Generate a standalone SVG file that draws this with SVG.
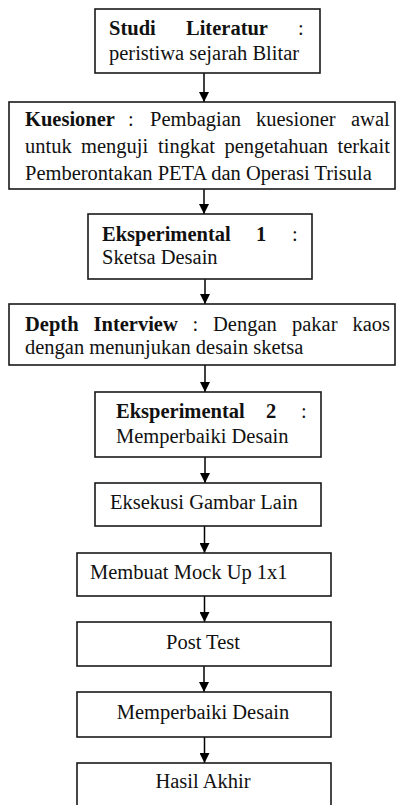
<svg xmlns="http://www.w3.org/2000/svg" width="396" height="805" viewBox="0 0 396 805">
<style>
.box{fill:#fff;stroke:#1a1a1a;stroke-width:1.6}
.t{font-family:"Liberation Serif","Times New Roman",serif;font-size:20.5px;fill:#111}
.b{font-weight:bold}
.c{text-anchor:middle}
.ln{stroke:#000;stroke-width:1.5;fill:none}
</style>
<defs>
<marker id="arr" markerUnits="userSpaceOnUse" markerWidth="10" markerHeight="10" refX="10" refY="5" orient="auto" viewBox="0 0 10 10">
<path d="M0,0 L10,5 L0,10 Z" fill="#000"/>
</marker>
</defs>
<rect width="396" height="805" fill="#fff"/>
<g id="connectors">
<line class="ln" x1="204" y1="73" x2="204" y2="102" marker-end="url(#arr)"/>
<line class="ln" x1="204" y1="189" x2="204" y2="214" marker-end="url(#arr)"/>
<line class="ln" x1="205" y1="279" x2="205" y2="304" marker-end="url(#arr)"/>
<line class="ln" x1="205" y1="365" x2="205" y2="392" marker-end="url(#arr)"/>
<line class="ln" x1="205" y1="457" x2="205" y2="483" marker-end="url(#arr)"/>
<line class="ln" x1="204.5" y1="526" x2="204.5" y2="553" marker-end="url(#arr)"/>
<line class="ln" x1="204.5" y1="596" x2="204.5" y2="622" marker-end="url(#arr)"/>
<line class="ln" x1="204" y1="666" x2="204" y2="692" marker-end="url(#arr)"/>
<line class="ln" x1="204.5" y1="737" x2="204.5" y2="763" marker-end="url(#arr)"/>
</g>
<g id="n1">
<rect class="box" x="95" y="9" width="225" height="64"/>
<text class="t" y="35"><tspan class="b" x="109">Studi</tspan><tspan class="b" x="186">Literatur</tspan><tspan x="298">:</tspan></text>
<text class="t" x="109" y="60">peristiwa sejarah Blitar</text>
</g>
<g id="n2">
<rect class="box" x="9" y="102" width="386" height="87"/>
<text class="t" y="126"><tspan class="b" x="25">Kuesioner</tspan><tspan x="128">:</tspan><tspan x="150">Pembagian</tspan><tspan x="256">kuesioner</tspan><tspan x="351">awal</tspan></text>
<text class="t" y="153"><tspan x="25">untuk</tspan><tspan x="81">menguji</tspan><tspan x="158">tingkat</tspan><tspan x="224.5">pengetahuan</tspan><tspan x="337.5">terkait</tspan></text>
<text class="t" x="25" y="180">Pemberontakan PETA dan Operasi Trisula</text>
</g>
<g id="n3">
<rect class="box" x="88" y="214" width="224" height="65"/>
<text class="t" y="241"><tspan class="b" x="102">Eksperimental</tspan><tspan class="b" x="256">1</tspan><tspan x="292">:</tspan></text>
<text class="t" x="102" y="264">Sketsa Desain</text>
</g>
<g id="n4">
<rect class="box" x="9" y="304" width="386" height="61"/>
<text class="t" y="331"><tspan class="b" x="25">Depth</tspan><tspan class="b" x="93.5">Interview</tspan><tspan x="192.5">:</tspan><tspan x="213">Dengan</tspan><tspan x="292">pakar</tspan><tspan x="352.5">kaos</tspan></text>
<text class="t" x="25" y="354">dengan menunjukan desain sketsa</text>
</g>
<g id="n5">
<rect class="box" x="95" y="392" width="226" height="65"/>
<text class="t" y="418"><tspan class="b" x="116">Eksperimental</tspan><tspan class="b" x="266">2</tspan><tspan x="301">:</tspan></text>
<text class="t" x="116" y="443">Memperbaiki Desain</text>
</g>
<g id="n6">
<rect class="box" x="95" y="483" width="226" height="43"/>
<text class="t" x="110" y="509">Eksekusi Gambar Lain</text>
</g>
<g id="n7">
<rect class="box" x="77" y="553" width="254" height="43"/>
<text class="t" x="90" y="579">Membuat Mock Up 1x1</text>
</g>
<g id="n8">
<rect class="box" x="77" y="622" width="254" height="44"/>
<text class="t c" x="203" y="649">Post Test</text>
</g>
<g id="n9">
<rect class="box" x="77" y="692" width="254" height="45"/>
<text class="t c" x="203" y="719">Memperbaiki Desain</text>
</g>
<g id="n10">
<rect class="box" x="77" y="763" width="254" height="50"/>
<text class="t c" x="203" y="788">Hasil Akhir</text>
</g>
</svg>
